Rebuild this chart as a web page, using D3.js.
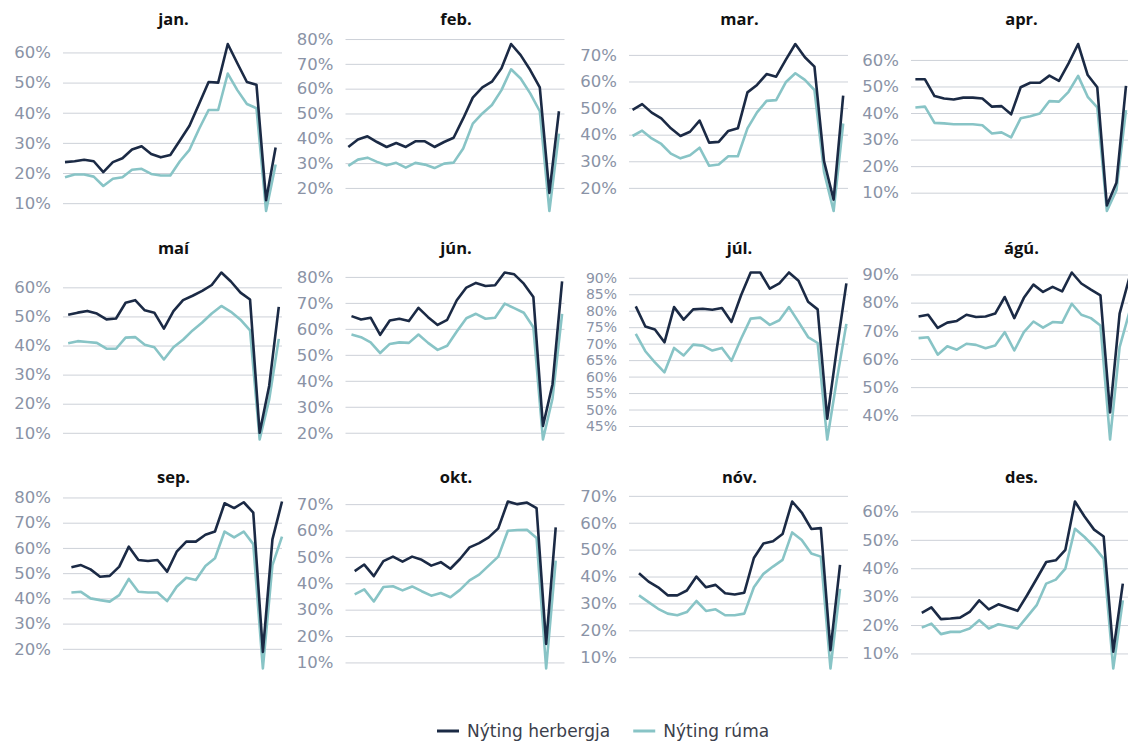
<!DOCTYPE html>
<html>
<head>
<meta charset="utf-8">
<script src="https://cdn.jsdelivr.net/npm/d3@7"></script>
<style>
  html, body { margin: 0; padding: 0; background: #ffffff; }
  svg { display: block; }
</style>
</head>
<body>
<div id="chart"></div>
<script>
// Monthly occupancy in Icelandic hotels, 2000 onward (one small panel per month)
const monthNames = ["jan.", "feb.", "mar.", "apr.", "maí", "jún.", "júl.", "ágú.", "sep.", "okt.", "nóv.", "des."];
const years = [2000, 2001, 2002, 2003, 2004, 2005, 2006, 2007, 2008, 2009, 2010, 2011,
               2012, 2013, 2014, 2015, 2016, 2017, 2018, 2019, 2020, 2021, 2022];
const seriesNames = ["Nýting herbergja", "Nýting rúma"];

// Room occupancy (herbergja) and bed occupancy (rúma), percent
const herbJan = [23.6, 23.9, 24.4, 23.9, 20.3, 23.6, 24.9, 27.8, 28.9, 26.3, 25.2, 26.0, 30.8, 35.7, 42.9, 50.2, 50.0, 62.8, 56.4, 50.2, 49.3, 11.0, 28.5];
const rumJan  = [18.6, 19.5, 19.5, 18.8, 15.7, 18.1, 18.6, 21.1, 21.4, 19.7, 19.2, 19.2, 23.9, 27.7, 34.6, 40.9, 40.9, 53.0, 47.5, 42.9, 41.5, 7.4, 22.8];
const herbFeb = [36.5, 39.5, 40.8, 38.5, 36.5, 38.1, 36.5, 38.8, 38.8, 36.5, 38.5, 40.2, 48.0, 56.4, 60.5, 62.8, 68.2, 78.0, 73.5, 67.5, 60.5, 18.0, 50.9];
const rumFeb  = [28.9, 31.4, 32.2, 30.5, 29.1, 30.1, 28.2, 30.1, 29.4, 28.0, 29.8, 30.2, 35.9, 45.9, 50.0, 53.4, 59.4, 67.8, 64.1, 58.1, 50.9, 10.7, 41.9];
const herbMar = [49.3, 51.5, 48.3, 46.1, 42.4, 39.5, 41.1, 45.3, 37.0, 37.3, 41.4, 42.4, 55.9, 58.7, 62.8, 61.8, 68.1, 74.1, 69.1, 65.6, 30.0, 15.6, 54.7];
const rumMar  = [39.5, 41.5, 38.6, 36.5, 32.9, 31.1, 32.3, 35.1, 28.3, 28.8, 31.9, 31.9, 42.4, 48.4, 52.7, 53.0, 59.7, 63.1, 60.6, 56.8, 26.0, 11.3, 44.2];
const herbApr = [52.7, 52.7, 46.4, 45.5, 45.1, 45.8, 45.8, 45.5, 42.4, 42.6, 39.5, 49.7, 51.4, 51.4, 54.1, 52.1, 58.7, 66.0, 54.3, 49.7, 5.2, 13.7, 50.2];
const rumApr  = [42.1, 42.4, 36.3, 36.1, 35.8, 35.8, 35.8, 35.4, 32.3, 32.7, 30.8, 38.0, 38.8, 39.8, 44.5, 44.3, 48.0, 54.0, 46.1, 42.1, 3.1, 10.9, 41.1];
const herbMai = [50.6, 51.3, 51.9, 51.0, 49.0, 49.3, 54.7, 55.6, 52.1, 51.3, 45.8, 51.8, 55.6, 57.1, 58.8, 60.8, 65.1, 62.0, 58.2, 55.8, 10.0, 26.2, 53.3];
const rumMai  = [40.8, 41.5, 41.2, 40.9, 38.9, 38.9, 42.7, 42.9, 40.3, 39.4, 35.2, 39.4, 42.0, 45.2, 47.9, 51.0, 53.6, 51.6, 48.9, 45.2, 7.7, 21.5, 42.3];
const herbJun = [64.9, 63.6, 64.3, 57.7, 63.2, 63.9, 63.0, 68.1, 64.5, 61.5, 63.5, 71.0, 75.9, 77.7, 76.5, 76.8, 81.7, 81.0, 77.4, 72.3, 22.6, 38.7, 78.3];
const rumJun  = [57.8, 56.8, 54.8, 50.7, 54.2, 54.8, 54.6, 57.8, 54.6, 51.9, 53.5, 59.0, 64.1, 65.8, 63.9, 64.3, 69.7, 68.0, 66.2, 60.6, 17.4, 33.2, 65.8];
const herbJul = [81.3, 75.2, 74.3, 70.4, 81.1, 77.3, 80.4, 80.6, 80.3, 80.8, 76.6, 84.7, 91.6, 91.6, 86.7, 88.3, 91.6, 89.1, 82.7, 80.4, 47.2, 68.4, 88.3];
const rumJul  = [73.0, 67.7, 64.3, 61.3, 68.7, 66.4, 69.7, 69.4, 67.9, 68.7, 64.8, 71.5, 77.6, 77.9, 75.7, 77.1, 81.1, 76.6, 72.0, 70.2, 40.9, 59.0, 76.0];
const herbAgu = [75.1, 75.7, 71.0, 72.9, 73.5, 75.7, 74.9, 75.1, 76.1, 82.0, 74.5, 81.7, 86.4, 83.8, 85.6, 84.0, 90.7, 86.8, 84.6, 82.6, 41.0, 76.1, 88.6];
const rumAgu  = [67.4, 67.7, 61.5, 64.5, 63.3, 65.4, 65.0, 63.8, 64.8, 69.5, 63.0, 69.5, 73.3, 71.1, 73.1, 72.9, 79.6, 75.7, 74.5, 71.9, 31.4, 64.2, 76.4];
const herbSep = [52.3, 53.2, 51.5, 48.6, 48.9, 52.6, 60.5, 55.2, 54.8, 55.2, 50.6, 58.5, 62.5, 62.5, 65.2, 66.5, 77.7, 75.8, 78.1, 74.0, 18.8, 63.4, 78.4];
const rumSep  = [42.3, 42.6, 40.0, 39.3, 38.7, 41.3, 47.7, 42.6, 42.3, 42.3, 38.9, 44.6, 48.2, 47.3, 52.8, 55.9, 66.5, 64.2, 66.5, 61.5, 12.2, 53.2, 64.5];
const herbOkt = [44.6, 47.1, 42.7, 48.4, 50.1, 48.2, 50.1, 48.9, 46.7, 48.0, 45.5, 49.2, 53.6, 55.2, 57.4, 60.8, 71.0, 70.0, 70.6, 68.5, 17.0, 61.2];
const rumOkt  = [35.8, 37.7, 33.1, 38.6, 38.9, 37.3, 38.8, 37.0, 35.3, 36.3, 34.7, 37.5, 41.1, 43.3, 46.7, 50.1, 59.9, 60.2, 60.3, 57.2, 7.7, 48.6];
const herbNov = [41.2, 38.1, 36.0, 33.0, 33.0, 34.8, 40.0, 36.0, 36.9, 33.8, 33.3, 34.0, 46.9, 52.3, 53.1, 55.8, 67.9, 63.8, 57.7, 58.0, 12.6, 44.3];
const rumNov  = [33.0, 30.5, 28.0, 26.2, 25.6, 26.8, 30.9, 27.2, 27.8, 25.6, 25.6, 26.2, 36.0, 41.0, 43.7, 46.2, 56.4, 53.6, 48.6, 47.4, 5.8, 35.4];
const herbDes = [24.3, 26.2, 22.1, 22.3, 22.6, 24.6, 28.7, 25.5, 27.3, 26.2, 25.0, 30.5, 36.3, 42.2, 42.8, 46.5, 63.5, 58.2, 53.6, 51.2, 10.6, 34.6];
const rumDes  = [19.1, 20.5, 16.8, 17.6, 17.6, 18.8, 21.7, 18.8, 20.3, 19.6, 18.8, 22.9, 27.0, 34.6, 36.0, 39.9, 53.9, 51.0, 47.5, 43.4, 4.7, 28.7];

// Y-axis tick values per panel (percent)
const ticksJan = [10, 20, 30, 40, 50, 60];
const ticksFeb = [20, 30, 40, 50, 60, 70, 80];
const ticksMar = [20, 30, 40, 50, 60, 70];
const ticksApr = [10, 20, 30, 40, 50, 60];
const ticksMai = [10, 20, 30, 40, 50, 60];
const ticksJun = [20, 30, 40, 50, 60, 70, 80];
const ticksJul = [45, 50, 55, 60, 65, 70, 75, 80, 85, 90];
const ticksAgu = [40, 50, 60, 70, 80, 90];
const ticksSep = [20, 30, 40, 50, 60, 70, 80];
const ticksOkt = [10, 20, 30, 40, 50, 60, 70];
const ticksNov = [10, 20, 30, 40, 50, 60, 70];
const ticksDes = [10, 20, 30, 40, 50, 60];

const herbergja = [herbJan, herbFeb, herbMar, herbApr, herbMai, herbJun, herbJul, herbAgu, herbSep, herbOkt, herbNov, herbDes];
const rum = [rumJan, rumFeb, rumMar, rumApr, rumMai, rumJun, rumJul, rumAgu, rumSep, rumOkt, rumNov, rumDes];
const tickSets = [ticksJan, ticksFeb, ticksMar, ticksApr, ticksMai, ticksJun, ticksJul, ticksAgu, ticksSep, ticksOkt, ticksNov, ticksDes];

// ---- layout ----
const W = 1128, H = 743;
const colLeft = [65, 347.5, 631, 913];
const rowTop = [44, 272.5, 501.5];
const plotW = 217, plotH = 167;
const colors = ["#1b2a45", "#88c4c6"];
const tickFont = "'DejaVu Sans', sans-serif";

const svg = d3.select("#chart").append("svg")
  .attr("width", W).attr("height", H)
  .attr("viewBox", `0 0 ${W} ${H}`);

// Shared monthly time axis: January 2000 to September 2022
const x = d3.scaleTime()
  .domain([new Date(2000, 0, 1), new Date(2022, 8, 1)])
  .range([0, plotW]);

monthNames.forEach((name, m) => {
  const col = m % 4, row = Math.floor(m / 4);
  const g = svg.append("g")
    .attr("transform", `translate(${colLeft[col]},${rowTop[row]})`);

  const pts = (vals) => vals.map((v, i) => ({ date: new Date(years[i], m, 1), v }));
  const s1 = pts(herbergja[m]);
  const s2 = pts(rum[m]);

  const y = d3.scaleLinear()
    .domain(d3.extent(s1.concat(s2), d => d.v))
    .range([plotH, 0]);

  // gridlines + tick labels via a left axis
  const axis = d3.axisLeft(y)
    .tickValues(tickSets[m])
    .tickSize(-(plotW + 2))
    .tickPadding(12)
    .tickFormat(d => d + "%");

  // densely ticked panels get a slightly smaller label so labels don't collide
  const step = y(tickSets[m][0]) - y(tickSets[m][1]);
  const labelSize = step < 19 ? 14 : 16.5;

  const ax = g.append("g")
    .attr("transform", "translate(-2,0)")
    .call(axis);
  ax.select(".domain").remove();
  ax.selectAll(".tick line")
    .attr("stroke", "#cdd1d8")
    .attr("stroke-width", 1);
  ax.selectAll(".tick text")
    .attr("fill", "#8a93a6")
    .attr("font-family", tickFont)
    .attr("font-size", labelSize)
    .attr("x", -12);

  // panel title
  g.append("text")
    .attr("x", plotW / 2)
    .attr("y", -19)
    .attr("text-anchor", "middle")
    .attr("font-family", "'Open Sans', sans-serif")
    .attr("font-weight", 700)
    .attr("font-size", 16.5)
    .attr("fill", "#111111")
    .text(name);

  const line = d3.line()
    .x(d => x(d.date))
    .y(d => y(d.v));

  [s2, s1].forEach((s, k) => {
    g.append("path")
      .datum(s)
      .attr("fill", "none")
      .attr("stroke", k === 0 ? colors[1] : colors[0])
      .attr("stroke-width", 2.6)
      .attr("stroke-linejoin", "round")
      .attr("d", line);
  });
});

// ---- legend ----
const legend = svg.append("g").attr("transform", "translate(437,731)");
let lx = 0;
seriesNames.forEach((nm, i) => {
  legend.append("line")
    .attr("x1", lx).attr("x2", lx + 22)
    .attr("y1", 0).attr("y2", 0)
    .attr("stroke", colors[i])
    .attr("stroke-width", 3);
  const t = legend.append("text")
    .attr("x", lx + 30)
    .attr("y", 0)
    .attr("dy", "0.35em")
    .attr("font-family", tickFont)
    .attr("font-size", 17)
    .attr("fill", "#3b404b")
    .text(nm);
  lx += 30 + t.node().getComputedTextLength() + 23;
});
</script>
</body>
</html>
